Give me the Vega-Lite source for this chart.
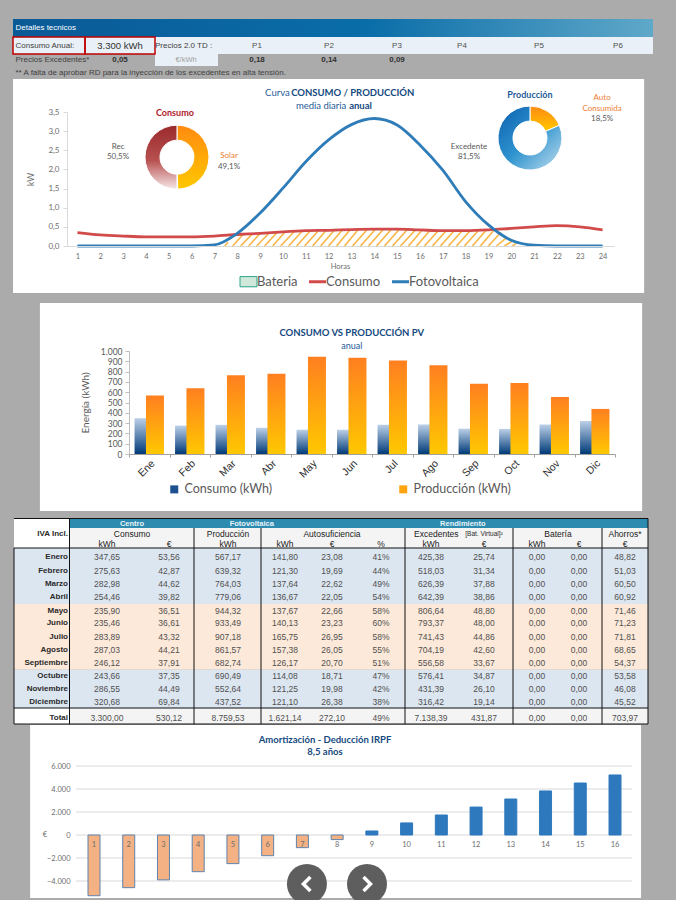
{"$schema":"https://vega.github.io/schema/vega-lite/v6.json","background":"#ABABAB","padding":0,"spacing":0,"bounds":"flush","resolve":{"scale":{"color":"independent"},"legend":{"color":"independent"}},"config":{"view":{"stroke":null},"concat":{"spacing":0},"text":{"font":"Lato"}},
"vconcat":[
{"width":676,"height":79,
"encoding":{"x":{"field":"c","type":"quantitative","axis":null,"scale":{"zero":false,"nice":false,"domain":[-2,-1,0,0.5,1,1.5,2,3,4,5,6,7,8,9],"range":[13,15.5,85,120,155,186,218,257,329,397,462,539,618,653]}},"y":{"field":"f","type":"quantitative","axis":null,"scale":{"zero":false,"nice":false,"domain":[0,1,2,3,4,5,6,7],"range":[19,28,37,45.5,54,60,66,73]}}},
"layer":[
{"data":{"values":[{"c":-2,"c2":9,"f":0,"f2":2}]},"mark":{"type":"rect","fill":{"x1":0,"y1":0,"x2":1,"y2":0,"gradient":"linear","stops":[{"offset":0,"color":"#0A5A96"},{"offset":0.55,"color":"#0A6DA8"},{"offset":1,"color":"#5FA8C9"}]}},"encoding":{"x2":{"field":"c2"},"y2":{"field":"f2"}}},
{"data":{"values":[{"c":-2,"c2":9,"f":2,"f2":4},{"c":1,"c2":2,"f":4,"f2":6}]},"mark":{"type":"rect","fill":"#EAF0F7"},"encoding":{"x2":{"field":"c2"},"y2":{"field":"f2"}}},
{"data":{"values":[{"c":-2,"c2":0,"f":2,"f2":4},{"c":0,"c2":1,"f":2,"f2":4}]},"mark":{"type":"rect","fill":"transparent","stroke":"#C00000","strokeWidth":1.5},"encoding":{"x2":{"field":"c2"},"y2":{"field":"f2"}}},
{"data":{"values":[{"c":-1,"f":1,"t":"Detalles tecnicos"}]},"mark":{"type":"text","align":"left","font":"Liberation Sans","fontSize":8,"fill":"white"},"encoding":{"text":{"field":"t"}}},
{"data":{"values":[{"c":-1,"f":3,"t":"Consumo Anual:"},{"c":1,"f":3,"t":" Precios  2.0 TD :"},{"c":-1,"f":5,"t":"Precios Excedentes*"},{"c":-1,"f":7,"t":"** A falta de aprobar RD para la inyección de los excedentes en alta tensión."}]},"mark":{"type":"text","align":"left","font":"Liberation Sans","fontSize":8,"fill":"#404040"},"encoding":{"text":{"field":"t"}}},
{"data":{"values":[{"c":0.5,"f":3,"t":"3.300 kWh"}]},"mark":{"type":"text","font":"Liberation Sans","fontSize":9.5,"fill":"#303030"},"encoding":{"text":{"field":"t"}}},
{"data":{"values":[{"c":3,"f":3,"t":"P1"},{"c":4,"f":3,"t":"P2"},{"c":5,"f":3,"t":"P3"},{"c":6,"f":3,"t":"P4"},{"c":7,"f":3,"t":"P5"},{"c":8,"f":3,"t":"P6"}]},"mark":{"type":"text","font":"Liberation Sans","fontSize":8,"fill":"#505050"},"encoding":{"text":{"field":"t"}}},
{"data":{"values":[{"c":1.5,"f":5,"t":"€/kWh"}]},"mark":{"type":"text","font":"Liberation Sans","fontSize":7.5,"fill":"#A0A0A0"},"encoding":{"text":{"field":"t"}}},
{"data":{"values":[{"c":0.5,"f":5,"t":"0,05"},{"c":3,"f":5,"t":"0,18"},{"c":4,"f":5,"t":"0,14"},{"c":5,"f":5,"t":"0,09"}]},"mark":{"type":"text","font":"Liberation Sans","fontSize":8,"fontWeight":"bold","fill":"#303030"},"encoding":{"text":{"field":"t"}}}
]},
{"width":676,"height":217,
"encoding":{"x":{"field":"h","type":"quantitative","scale":{"zero":false,"nice":false,"domain":[0.5,24.5],"range":[66,614]},"axis":{"orient":"bottom","offset":-50,"zindex":1,"values":[1,2,3,4,5,6,7,8,9,10,11,12,13,14,15,16,17,18,19,20,21,22,23,24],"format":"d","ticks":false,"grid":false,"domainColor":"#D9D9D9","labelFont":"Lato","labelFontSize":7.5,"labelColor":"#6E6E6E","labelPadding":6,"title":"Horas","titleFont":"Lato","titleFontSize":7.5,"titleFontWeight":"normal","titleColor":"#6E6E6E","titlePadding":3,"labelOverlap":false}},"y":{"field":"k","type":"quantitative","scale":{"zero":false,"nice":false,"domain":[0,3.5],"range":[167,33]},"axis":{"orient":"left","offset":-67,"zindex":1,"values":[0,0.5,1,1.5,2,2.5,3,3.5],"labelExpr":"replace(format(datum.value,'.1f'),'.',',')","grid":false,"domainColor":"#D9D9D9","tickColor":"#D9D9D9","tickSize":4,"labelFont":"Lato","labelFontSize":8,"labelColor":"#6E6E6E","labelPadding":4,"title":"kW","titleFont":"Lato","titleFontSize":9,"titleFontWeight":"normal","titleColor":"#6E6E6E","titlePadding":12}}},
"layer":[
{"data":{"values":[{"h":-1.82,"h2":25.82,"k":4.36,"k2":-1.227}]},"mark":{"type":"rect","fill":"white"},"encoding":{"x2":{"field":"h2"},"y2":{"field":"k2"}}},
{"data":{"values":[{"h":7.45,"h2":7.6,"k":0,"k2":0.1},{"h":7.8,"h2":8.25,"k":0,"k2":0.3},{"h":8.15,"h2":8.65,"k":0,"k2":0.31},{"h":8.5,"h2":9,"k":0,"k2":0.33},{"h":8.85,"h2":9.4,"k":0,"k2":0.34},{"h":9.2,"h2":9.75,"k":0,"k2":0.36},{"h":9.55,"h2":10.1,"k":0,"k2":0.37},{"h":9.9,"h2":10.5,"k":0,"k2":0.38},{"h":10.25,"h2":10.85,"k":0,"k2":0.39},{"h":10.6,"h2":11.2,"k":0,"k2":0.4},{"h":10.95,"h2":11.55,"k":0,"k2":0.4},{"h":11.3,"h2":11.9,"k":0,"k2":0.41},{"h":11.65,"h2":12.25,"k":0,"k2":0.41},{"h":12,"h2":12.6,"k":0,"k2":0.42},{"h":12.35,"h2":12.95,"k":0,"k2":0.43},{"h":12.7,"h2":13.3,"k":0,"k2":0.43},{"h":13.05,"h2":13.7,"k":0,"k2":0.44},{"h":13.4,"h2":14.05,"k":0,"k2":0.44},{"h":13.75,"h2":14.4,"k":0,"k2":0.44},{"h":14.1,"h2":14.75,"k":0,"k2":0.44},{"h":14.45,"h2":15.1,"k":0,"k2":0.44},{"h":14.8,"h2":15.45,"k":0,"k2":0.43},{"h":15.15,"h2":15.8,"k":0,"k2":0.42},{"h":15.5,"h2":16.1,"k":0,"k2":0.42},{"h":15.85,"h2":16.45,"k":0,"k2":0.41},{"h":16.2,"h2":16.8,"k":0,"k2":0.4},{"h":16.55,"h2":17.15,"k":0,"k2":0.4},{"h":16.9,"h2":17.5,"k":0,"k2":0.4},{"h":17.25,"h2":17.85,"k":0,"k2":0.4},{"h":17.6,"h2":18.2,"k":0,"k2":0.4},{"h":17.95,"h2":18.55,"k":0,"k2":0.4},{"h":18.3,"h2":18.9,"k":0,"k2":0.41},{"h":18.65,"h2":19.25,"k":0,"k2":0.42},{"h":19,"h2":19.55,"k":0,"k2":0.36},{"h":19.35,"h2":19.8,"k":0,"k2":0.22},{"h":19.7,"h2":20.05,"k":0,"k2":0.13},{"h":20.05,"h2":20.2,"k":0,"k2":0.06}]},"mark":{"type":"rule","stroke":"#F6B544","strokeWidth":1.6},"encoding":{"x2":{"field":"h2"},"y2":{"field":"k2"}}},
{"data":{"values":[{"h":1,"k":0.35,"serie":"Consumo"},{"h":2,"k":0.29,"serie":"Consumo"},{"h":3,"k":0.26,"serie":"Consumo"},{"h":4,"k":0.24,"serie":"Consumo"},{"h":5,"k":0.24,"serie":"Consumo"},{"h":6,"k":0.24,"serie":"Consumo"},{"h":7,"k":0.26,"serie":"Consumo"},{"h":8,"k":0.3,"serie":"Consumo"},{"h":9,"k":0.33,"serie":"Consumo"},{"h":10,"k":0.37,"serie":"Consumo"},{"h":11,"k":0.4,"serie":"Consumo"},{"h":12,"k":0.41,"serie":"Consumo"},{"h":13,"k":0.43,"serie":"Consumo"},{"h":14,"k":0.44,"serie":"Consumo"},{"h":15,"k":0.44,"serie":"Consumo"},{"h":16,"k":0.42,"serie":"Consumo"},{"h":17,"k":0.4,"serie":"Consumo"},{"h":18,"k":0.4,"serie":"Consumo"},{"h":19,"k":0.42,"serie":"Consumo"},{"h":20,"k":0.46,"serie":"Consumo"},{"h":21,"k":0.5,"serie":"Consumo"},{"h":22,"k":0.53,"serie":"Consumo"},{"h":23,"k":0.5,"serie":"Consumo"},{"h":24,"k":0.42,"serie":"Consumo"},
{"h":1,"k":0,"serie":"Fotovoltaica"},{"h":2,"k":0,"serie":"Fotovoltaica"},{"h":3,"k":0,"serie":"Fotovoltaica"},{"h":4,"k":0,"serie":"Fotovoltaica"},{"h":5,"k":0,"serie":"Fotovoltaica"},{"h":6,"k":0,"serie":"Fotovoltaica"},{"h":7,"k":0.03,"serie":"Fotovoltaica"},{"h":8,"k":0.33,"serie":"Fotovoltaica"},{"h":9,"k":0.86,"serie":"Fotovoltaica"},{"h":10,"k":1.51,"serie":"Fotovoltaica"},{"h":11,"k":2.2,"serie":"Fotovoltaica"},{"h":12,"k":2.77,"serie":"Fotovoltaica"},{"h":13,"k":3.17,"serie":"Fotovoltaica"},{"h":14,"k":3.33,"serie":"Fotovoltaica"},{"h":15,"k":3.16,"serie":"Fotovoltaica"},{"h":16,"k":2.64,"serie":"Fotovoltaica"},{"h":17,"k":1.98,"serie":"Fotovoltaica"},{"h":18,"k":1.16,"serie":"Fotovoltaica"},{"h":19,"k":0.55,"serie":"Fotovoltaica"},{"h":20,"k":0.15,"serie":"Fotovoltaica"},{"h":21,"k":0.02,"serie":"Fotovoltaica"},{"h":22,"k":0,"serie":"Fotovoltaica"},{"h":23,"k":0,"serie":"Fotovoltaica"},{"h":24,"k":0,"serie":"Fotovoltaica"}]},"mark":{"type":"line","interpolate":"monotone","strokeWidth":2.8},"encoding":{"color":{"field":"serie","type":"nominal","scale":{"domain":["Bateria","Consumo","Fotovoltaica"],"range":["#2CA58D","#D24B4B","#2E7CB8"]},"legend":{"orient":"none","legendX":242,"legendY":196,"direction":"horizontal","columns":3,"title":null,"labelFont":"Lato","labelFontSize":13,"labelColor":"#595959","symbolSize":289,"symbolStrokeWidth":3,"symbolType":"stroke","columnPadding":5,"labelOffset":2,"encode":{"symbols":{"update":{"shape":{"signal":"datum.value==='Bateria'?'M-1,-0.6H1V0.6H-1Z':'stroke'"},"fill":{"signal":"datum.value==='Bateria'?'#CFE8DA':'transparent'"},"strokeWidth":{"signal":"datum.value==='Bateria'?1:3"}}}}}}}},
{"data":{"values":[{"h":5.36,"k":2.32,"ini":0,"fin":49.6}]},"mark":{"type":"arc","radius":32,"radius2":17,"stroke":"white","strokeWidth":1,"fill":{"x1":0,"y1":0,"x2":0,"y2":1,"gradient":"linear","stops":[{"offset":0,"color":"#FF8A10"},{"offset":1,"color":"#FFC800"}]}},"encoding":{"theta":{"field":"ini","type":"quantitative","stack":null,"scale":{"domain":[0,100]}},"theta2":{"field":"fin"}}},
{"data":{"values":[{"h":5.36,"k":2.32,"ini":50,"fin":100}]},"mark":{"type":"arc","radius":32,"radius2":17,"stroke":"white","strokeWidth":1,"fill":{"x1":0,"y1":0,"x2":0,"y2":1,"gradient":"linear","stops":[{"offset":0,"color":"#9A2A2C"},{"offset":0.55,"color":"#B85050"},{"offset":1,"color":"#F6E8E8"}]}},"encoding":{"theta":{"field":"ini","type":"quantitative","stack":null,"scale":{"domain":[0,100]}},"theta2":{"field":"fin"}}},
{"data":{"values":[{"h":20.82,"k":2.82,"ini":0,"fin":18.5}]},"mark":{"type":"arc","radius":32,"radius2":17,"stroke":"white","strokeWidth":1,"fill":{"x1":0,"y1":0,"x2":0,"y2":1,"gradient":"linear","stops":[{"offset":0,"color":"#FF8A10"},{"offset":1,"color":"#FFC800"}]}},"encoding":{"theta":{"field":"ini","type":"quantitative","stack":null,"scale":{"domain":[0,100]}},"theta2":{"field":"fin"}}},
{"data":{"values":[{"h":20.82,"k":2.82,"ini":18.5,"fin":100}]},"mark":{"type":"arc","radius":32,"radius2":17,"stroke":"white","strokeWidth":1,"fill":{"x1":0,"y1":0,"x2":1,"y2":1,"gradient":"linear","stops":[{"offset":0,"color":"#0B5FAE"},{"offset":0.5,"color":"#2F94CF"},{"offset":1,"color":"#C2DDEE"}]}},"encoding":{"theta":{"field":"ini","type":"quantitative","stack":null,"scale":{"domain":[0,100]}},"theta2":{"field":"fin"}}},
{"data":{"values":[{"h":9.22,"k":3.995,"t":"Curva"},{"h":10.57,"k":3.655,"t":"media diaria"}]},"mark":{"type":"text","align":"left","fontSize":9.5,"fill":"#1F5C99"},"encoding":{"text":{"field":"t"}}},
{"data":{"values":[{"h":10.36,"k":3.995,"t":"CONSUMO / PRODUCCIÓN"},{"h":12.9,"k":3.655,"t":"anual"}]},"mark":{"type":"text","align":"left","fontSize":9.5,"fontWeight":"bold","fill":"#154A80"},"encoding":{"text":{"field":"t"}}},
{"data":{"values":[{"h":5.27,"k":3.47,"t":"Consumo"}]},"mark":{"type":"text","fontSize":9,"fontWeight":"bold","fill":"#B02028"},"encoding":{"text":{"field":"t"}}},
{"data":{"values":[{"h":20.82,"k":3.94,"t":"Producción"}]},"mark":{"type":"text","fontSize":9,"fontWeight":"bold","fill":"#1F5C99"},"encoding":{"text":{"field":"t"}}},
{"data":{"values":[{"h":2.78,"k":2.585,"t":"Rec"},{"h":2.78,"k":2.32,"t":"50,5%"},{"h":7.64,"k":2.06,"t":"49,1%"},{"h":23.98,"k":3.32,"t":"18,5%"},{"h":18.15,"k":2.585,"t":"Excedente"},{"h":18.15,"k":2.32,"t":"81,5%"}]},"mark":{"type":"text","fontSize":8,"fill":"#595959"},"encoding":{"text":{"field":"t"}}},
{"data":{"values":[{"h":7.64,"k":2.35,"t":"Solar"},{"h":23.98,"k":3.86,"t":"Auto"},{"h":23.98,"k":3.58,"t":"Consumida"}]},"mark":{"type":"text","fontSize":8,"fill":"#ED7D31"},"encoding":{"text":{"field":"t"}}}
]},
{"width":676,"height":215,"resolve":{"scale":{"x":"independent","y":"independent"}},
"layer":[
{"encoding":{"x":{"field":"n","type":"quantitative","axis":null,"scale":{"zero":false,"nice":false,"domain":[0.5,12.5],"range":[129,615]}},"y":{"field":"e","type":"quantitative","axis":null,"scale":{"zero":false,"nice":false,"domain":[0,1000],"range":[158,55]}}},
"layer":[
{"data":{"values":[{"n":-1.7,"n2":13.17,"e":1466,"e2":-553}]},"mark":{"type":"rect","fill":"white"},"encoding":{"x2":{"field":"n2"},"y2":{"field":"e2"}}},
{"data":{"values":[{"n":6,"e":1175,"t":"CONSUMO VS PRODUCCIÓN PV"}]},"mark":{"type":"text","fontSize":9.5,"fontWeight":"bold","fill":"#154A80"},"encoding":{"text":{"field":"t"}}},
{"data":{"values":[{"n":6,"e":1049,"t":"anual"}]},"mark":{"type":"text","fontSize":9,"fill":"#1F5C99"},"encoding":{"text":{"field":"t"}}}
]},
{"data":{"values":[{"mes":"Ene","serie":"Consumo (kWh)","kwh":347.65},{"mes":"Feb","serie":"Consumo (kWh)","kwh":275.63},{"mes":"Mar","serie":"Consumo (kWh)","kwh":282.98},{"mes":"Abr","serie":"Consumo (kWh)","kwh":254.46},{"mes":"May","serie":"Consumo (kWh)","kwh":235.9},{"mes":"Jun","serie":"Consumo (kWh)","kwh":235.46},{"mes":"Jul","serie":"Consumo (kWh)","kwh":283.89},{"mes":"Ago","serie":"Consumo (kWh)","kwh":287.03},{"mes":"Sep","serie":"Consumo (kWh)","kwh":246.12},{"mes":"Oct","serie":"Consumo (kWh)","kwh":243.66},{"mes":"Nov","serie":"Consumo (kWh)","kwh":286.55},{"mes":"Dic","serie":"Consumo (kWh)","kwh":320.68},
{"mes":"Ene","serie":"Producción (kWh)","kwh":567.17},{"mes":"Feb","serie":"Producción (kWh)","kwh":639.32},{"mes":"Mar","serie":"Producción (kWh)","kwh":764.03},{"mes":"Abr","serie":"Producción (kWh)","kwh":779.06},{"mes":"May","serie":"Producción (kWh)","kwh":944.32},{"mes":"Jun","serie":"Producción (kWh)","kwh":933.49},{"mes":"Jul","serie":"Producción (kWh)","kwh":907.18},{"mes":"Ago","serie":"Producción (kWh)","kwh":861.57},{"mes":"Sep","serie":"Producción (kWh)","kwh":682.74},{"mes":"Oct","serie":"Producción (kWh)","kwh":690.49},{"mes":"Nov","serie":"Producción (kWh)","kwh":552.64},{"mes":"Dic","serie":"Producción (kWh)","kwh":437.52}]},
"encoding":{"x":{"field":"mes","type":"nominal","sort":null,"scale":{"type":"band","domain":["Ene","Feb","Mar","Abr","May","Jun","Jul","Ago","Sep","Oct","Nov","Dic"],"range":[129,615],"paddingInner":0,"paddingOuter":0},"axis":{"orient":"bottom","offset":-57,"zindex":1,"title":null,"tickBand":"extent","labelAngle":-45,"labelFont":"Liberation Sans","labelFontSize":10.5,"labelColor":"#303030","labelPadding":1,"domainColor":"#A0A0A0","tickColor":"#A0A0A0","tickSize":3,"grid":false}},"y":{"field":"kwh","type":"quantitative","scale":{"zero":false,"nice":false,"padding":0,"domain":[0,1000],"range":[158,55]},"axis":{"orient":"left","offset":-129,"zindex":1,"values":[0,100,200,300,400,500,600,700,800,900,1000],"labelExpr":"replace(format(datum.value,',d'),',','.')","labelFont":"Lato","labelFontSize":8.5,"labelColor":"#595959","labelPadding":3,"domainColor":"#BFBFBF","tickColor":"#BFBFBF","tickSize":4,"grid":false,"title":"Energía (kWh)","titleFont":"Lato","titleFontSize":10,"titleFontWeight":"normal","titleColor":"#595959","titlePadding":10}}},
"layer":[
{"mark":{"type":"bar","width":18,"opacity":0},"encoding":{"color":{"field":"serie","type":"nominal","scale":{"domain":["Consumo (kWh)","Producción (kWh)"],"range":["#1B4F8F","#FFA310"]},"legend":{"orient":"none","legendX":168,"legendY":187,"direction":"horizontal","columns":2,"title":null,"labelFont":"Lato","labelFontSize":12.5,"labelColor":"#595959","symbolType":"square","symbolSize":64,"symbolStrokeWidth":0,"symbolOpacity":1,"columnPadding":124,"labelOffset":4,"encode":{"symbols":{"update":{"opacity":{"value":1}}}}}}}},
{"transform":[{"filter":"datum.serie==='Consumo (kWh)'"}],"mark":{"type":"bar","width":18,"xOffset":-5.7,"fill":{"x1":0,"y1":0,"x2":0,"y2":1,"gradient":"linear","stops":[{"offset":0,"color":"#BCD0E8"},{"offset":1,"color":"#003A78"}]}}},
{"transform":[{"filter":"datum.serie==='Producción (kWh)'"}],"mark":{"type":"bar","width":18,"xOffset":5.7,"fill":{"x1":0,"y1":0,"x2":0,"y2":1,"gradient":"linear","stops":[{"offset":0,"color":"#FF7F20"},{"offset":1,"color":"#FFC800"}]}}}
]}
]},
{"width":676,"height":214,
"encoding":{"x":{"field":"c","type":"quantitative","axis":null,"scale":{"zero":false,"nice":false,"domain":[-1,0,0.5,1,1.4,2,2.5,3,3.5,4,5,6,6.5,7,8,8.5,9,10,10.5,11,11.5],"range":[14,68,69.5,107,132,169,194,228,261,285,332,381,405,431,484,513,537,579,602,625,648]}},"y":{"field":"f","type":"quantitative","axis":null,"scale":{"zero":false,"nice":false,"domain":[-3,-2.5,-2,-1,0,0.5,1,2,3,4,5,6,7,8,9,10,11,12,12.5,13,13.5],"range":[7.5,12.7,17,23,33,37,46,60,73,86,100,112,126,139,152,165,178,191,197,206.5,213]}}},
"layer":[
{"data":{"values":[{"c":-1,"c2":0.5,"f":-3,"f2":0.5},{"c":-1,"c2":0.5,"f":12.5,"f2":13.5}]},"mark":{"type":"rect","fill":"white"},"encoding":{"x2":{"field":"c2"},"y2":{"field":"f2"}}},
{"data":{"values":[{"c":0.5,"c2":11.5,"f":-3,"f2":-2}]},"mark":{"type":"rect","fill":"#2E8BB0"},"encoding":{"x2":{"field":"c2"},"y2":{"field":"f2"}}},
{"data":{"values":[{"c":0.5,"c2":11.5,"f":-2,"f2":0.5},{"c":0.5,"c2":11.5,"f":12.5,"f2":13.5}]},"mark":{"type":"rect","fill":"#F4F4F4"},"encoding":{"x2":{"field":"c2"},"y2":{"field":"f2"}}},
{"data":{"values":[{"c":-1,"c2":11.5,"f":0.5,"f2":4.5},{"c":-1,"c2":11.5,"f":9.5,"f2":12.5}]},"mark":{"type":"rect","fill":"#DCE6F1"},"encoding":{"x2":{"field":"c2"},"y2":{"field":"f2"}}},
{"data":{"values":[{"c":-1,"c2":11.5,"f":4.5,"f2":9.5}]},"mark":{"type":"rect","fill":"#FDE9D9"},"encoding":{"x2":{"field":"c2"},"y2":{"field":"f2"}}},
{"data":{"values":[{"c":0.5,"c2":0.5,"f":-3,"f2":13.5},{"c":2.5,"c2":2.5,"f":-2,"f2":13.5},{"c":3.5,"c2":3.5,"f":-2,"f2":13.5},{"c":6.5,"c2":6.5,"f":-2,"f2":13.5},{"c":8.5,"c2":8.5,"f":-2,"f2":13.5},{"c":10.5,"c2":10.5,"f":-2,"f2":13.5},{"c":-1,"c2":11.5,"f":0.5,"f2":0.5},{"c":-1,"c2":11.5,"f":12.5,"f2":12.5},{"c":-1,"c2":11.5,"f":13.5,"f2":13.5},{"c":-1,"c2":11.5,"f":-3,"f2":-3},{"c":11.5,"c2":11.5,"f":-3,"f2":13.5},{"c":-1,"c2":-1,"f":0.5,"f2":13.5}]},"mark":{"type":"rule","stroke":"#111111","strokeWidth":1},"encoding":{"x2":{"field":"c2"},"y2":{"field":"f2"}}},
{"data":{"values":[{"c":1.4,"f":-2.5,"t":"Centro"},{"c":3.36,"f":-2.5,"t":"Fotovoltaica"},{"c":7.6,"f":-2.5,"t":"Rendimiento"}]},"mark":{"type":"text","font":"Liberation Sans","fontSize":7.5,"fontWeight":"bold","fill":"#EAF4F8"},"encoding":{"text":{"field":"t"}}},
{"data":{"values":[{"c":1.4,"f":-1,"t":"Consumo"},{"c":3,"f":-1,"t":"Producción"},{"c":5,"f":-1,"t":"Autosuficiencia"},{"c":7.1,"f":-1,"t":"Excedentes"},{"c":9.5,"f":-1,"t":"Batería"},{"c":11,"f":-1,"t":"Ahorros*"},{"c":1,"f":0,"t":"kWh"},{"c":2,"f":0,"t":"€"},{"c":3,"f":0,"t":"kWh"},{"c":4,"f":0,"t":"kWh"},{"c":5,"f":0,"t":"€"},{"c":6,"f":0,"t":"%"},{"c":7,"f":0,"t":"kWh"},{"c":8,"f":0,"t":"€"},{"c":9,"f":0,"t":"kWh"},{"c":10,"f":0,"t":"€"},{"c":11,"f":0,"t":"€"}]},"mark":{"type":"text","font":"Liberation Sans","fontSize":8.5,"fill":"#1A1A1A"},"encoding":{"text":{"field":"t"}}},
{"data":{"values":[{"c":8,"f":-1,"t":"[Bat. Virtual]²"}]},"mark":{"type":"text","font":"Liberation Sans","fontSize":6.5,"fill":"#2A2A2A"},"encoding":{"text":{"field":"t"}}},
{"data":{"values":[{"c":0,"f":-1,"t":"IVA Incl."},{"c":0,"f":1,"t":"Enero"},{"c":0,"f":2,"t":"Febrero"},{"c":0,"f":3,"t":"Marzo"},{"c":0,"f":4,"t":"Abril"},{"c":0,"f":5,"t":"Mayo"},{"c":0,"f":6,"t":"Junio"},{"c":0,"f":7,"t":"Julio"},{"c":0,"f":8,"t":"Agosto"},{"c":0,"f":9,"t":"Septiembre"},{"c":0,"f":10,"t":"Octubre"},{"c":0,"f":11,"t":"Noviembre"},{"c":0,"f":12,"t":"Diciembre"},{"c":0,"f":13,"t":"Total"}]},"mark":{"type":"text","align":"right","font":"Liberation Sans","fontSize":8,"fontWeight":"bold","fill":"#2A2A2A"},"encoding":{"text":{"field":"t"}}},
{"data":{"values":[
{"f":1,"c":1,"t":"347,65"},{"f":1,"c":2,"t":"53,56"},{"f":1,"c":3,"t":"567,17"},{"f":1,"c":4,"t":"141,80"},{"f":1,"c":5,"t":"23,08"},{"f":1,"c":6,"t":"41%"},{"f":1,"c":7,"t":"425,38"},{"f":1,"c":8,"t":"25,74"},{"f":1,"c":9,"t":"0,00"},{"f":1,"c":10,"t":"0,00"},{"f":1,"c":11,"t":"48,82"},
{"f":2,"c":1,"t":"275,63"},{"f":2,"c":2,"t":"42,87"},{"f":2,"c":3,"t":"639,32"},{"f":2,"c":4,"t":"121,30"},{"f":2,"c":5,"t":"19,69"},{"f":2,"c":6,"t":"44%"},{"f":2,"c":7,"t":"518,03"},{"f":2,"c":8,"t":"31,34"},{"f":2,"c":9,"t":"0,00"},{"f":2,"c":10,"t":"0,00"},{"f":2,"c":11,"t":"51,03"},
{"f":3,"c":1,"t":"282,98"},{"f":3,"c":2,"t":"44,62"},{"f":3,"c":3,"t":"764,03"},{"f":3,"c":4,"t":"137,64"},{"f":3,"c":5,"t":"22,62"},{"f":3,"c":6,"t":"49%"},{"f":3,"c":7,"t":"626,39"},{"f":3,"c":8,"t":"37,88"},{"f":3,"c":9,"t":"0,00"},{"f":3,"c":10,"t":"0,00"},{"f":3,"c":11,"t":"60,50"},
{"f":4,"c":1,"t":"254,46"},{"f":4,"c":2,"t":"39,82"},{"f":4,"c":3,"t":"779,06"},{"f":4,"c":4,"t":"136,67"},{"f":4,"c":5,"t":"22,05"},{"f":4,"c":6,"t":"54%"},{"f":4,"c":7,"t":"642,39"},{"f":4,"c":8,"t":"38,86"},{"f":4,"c":9,"t":"0,00"},{"f":4,"c":10,"t":"0,00"},{"f":4,"c":11,"t":"60,92"},
{"f":5,"c":1,"t":"235,90"},{"f":5,"c":2,"t":"36,51"},{"f":5,"c":3,"t":"944,32"},{"f":5,"c":4,"t":"137,67"},{"f":5,"c":5,"t":"22,66"},{"f":5,"c":6,"t":"58%"},{"f":5,"c":7,"t":"806,64"},{"f":5,"c":8,"t":"48,80"},{"f":5,"c":9,"t":"0,00"},{"f":5,"c":10,"t":"0,00"},{"f":5,"c":11,"t":"71,46"},
{"f":6,"c":1,"t":"235,46"},{"f":6,"c":2,"t":"36,61"},{"f":6,"c":3,"t":"933,49"},{"f":6,"c":4,"t":"140,13"},{"f":6,"c":5,"t":"23,23"},{"f":6,"c":6,"t":"60%"},{"f":6,"c":7,"t":"793,37"},{"f":6,"c":8,"t":"48,00"},{"f":6,"c":9,"t":"0,00"},{"f":6,"c":10,"t":"0,00"},{"f":6,"c":11,"t":"71,23"},
{"f":7,"c":1,"t":"283,89"},{"f":7,"c":2,"t":"43,32"},{"f":7,"c":3,"t":"907,18"},{"f":7,"c":4,"t":"165,75"},{"f":7,"c":5,"t":"26,95"},{"f":7,"c":6,"t":"58%"},{"f":7,"c":7,"t":"741,43"},{"f":7,"c":8,"t":"44,86"},{"f":7,"c":9,"t":"0,00"},{"f":7,"c":10,"t":"0,00"},{"f":7,"c":11,"t":"71,81"},
{"f":8,"c":1,"t":"287,03"},{"f":8,"c":2,"t":"44,21"},{"f":8,"c":3,"t":"861,57"},{"f":8,"c":4,"t":"157,38"},{"f":8,"c":5,"t":"26,05"},{"f":8,"c":6,"t":"55%"},{"f":8,"c":7,"t":"704,19"},{"f":8,"c":8,"t":"42,60"},{"f":8,"c":9,"t":"0,00"},{"f":8,"c":10,"t":"0,00"},{"f":8,"c":11,"t":"68,65"},
{"f":9,"c":1,"t":"246,12"},{"f":9,"c":2,"t":"37,91"},{"f":9,"c":3,"t":"682,74"},{"f":9,"c":4,"t":"126,17"},{"f":9,"c":5,"t":"20,70"},{"f":9,"c":6,"t":"51%"},{"f":9,"c":7,"t":"556,58"},{"f":9,"c":8,"t":"33,67"},{"f":9,"c":9,"t":"0,00"},{"f":9,"c":10,"t":"0,00"},{"f":9,"c":11,"t":"54,37"},
{"f":10,"c":1,"t":"243,66"},{"f":10,"c":2,"t":"37,35"},{"f":10,"c":3,"t":"690,49"},{"f":10,"c":4,"t":"114,08"},{"f":10,"c":5,"t":"18,71"},{"f":10,"c":6,"t":"47%"},{"f":10,"c":7,"t":"576,41"},{"f":10,"c":8,"t":"34,87"},{"f":10,"c":9,"t":"0,00"},{"f":10,"c":10,"t":"0,00"},{"f":10,"c":11,"t":"53,58"},
{"f":11,"c":1,"t":"286,55"},{"f":11,"c":2,"t":"44,49"},{"f":11,"c":3,"t":"552,64"},{"f":11,"c":4,"t":"121,25"},{"f":11,"c":5,"t":"19,98"},{"f":11,"c":6,"t":"42%"},{"f":11,"c":7,"t":"431,39"},{"f":11,"c":8,"t":"26,10"},{"f":11,"c":9,"t":"0,00"},{"f":11,"c":10,"t":"0,00"},{"f":11,"c":11,"t":"46,08"},
{"f":12,"c":1,"t":"320,68"},{"f":12,"c":2,"t":"69,84"},{"f":12,"c":3,"t":"437,52"},{"f":12,"c":4,"t":"121,10"},{"f":12,"c":5,"t":"26,38"},{"f":12,"c":6,"t":"38%"},{"f":12,"c":7,"t":"316,42"},{"f":12,"c":8,"t":"19,14"},{"f":12,"c":9,"t":"0,00"},{"f":12,"c":10,"t":"0,00"},{"f":12,"c":11,"t":"45,52"},
{"f":13,"c":1,"t":"3.300,00"},{"f":13,"c":2,"t":"530,12"},{"f":13,"c":3,"t":"8.759,53"},{"f":13,"c":4,"t":"1.621,14"},{"f":13,"c":5,"t":"272,10"},{"f":13,"c":6,"t":"49%"},{"f":13,"c":7,"t":"7.138,39"},{"f":13,"c":8,"t":"431,87"},{"f":13,"c":9,"t":"0,00"},{"f":13,"c":10,"t":"0,00"},{"f":13,"c":11,"t":"703,97"}
]},"mark":{"type":"text","font":"Liberation Sans","fontSize":8.5,"fill":"#505050"},"encoding":{"text":{"field":"t"}}}
]},
{"width":676,"height":175,
"encoding":{"x":{"field":"a","type":"quantitative","axis":null,"scale":{"zero":false,"nice":false,"padding":0,"domain":[1,16],"range":[94,615]}},"y":{"field":"v","type":"quantitative","scale":{"zero":false,"nice":false,"padding":0,"domain":[-4000,6000],"range":[156,41]},"axis":{"orient":"left","offset":-74,"zindex":1,"values":[-4000,-2000,0,2000,4000,6000],"labelExpr":"replace(format(datum.value,',d'),',','.')","title":null,"domain":false,"ticks":false,"grid":false,"labelFont":"Lato","labelFontSize":7.5,"labelColor":"#6E6E6E","labelPadding":4}}},
"layer":[
{"data":{"values":[{"a":-0.84,"a2":16.75,"v":9565,"v2":-5478}]},"mark":{"type":"rect","fill":"white"},"encoding":{"x2":{"field":"a2"},"y2":{"field":"v2"}}},
{"data":{"values":[{"a":0.48,"a2":16.49,"v":6000},{"a":0.48,"a2":16.49,"v":4000},{"a":0.48,"a2":16.49,"v":2000},{"a":0.48,"a2":16.49,"v":0},{"a":0.48,"a2":16.49,"v":-2000},{"a":0.48,"a2":16.49,"v":-4000}]},"mark":{"type":"rule","stroke":"#D9D9D9","strokeWidth":1},"encoding":{"x2":{"field":"a2"}}},
{"data":{"values":[{"a":1,"v":-5280,"tipo":"inversión"},{"a":2,"v":-4580,"tipo":"inversión"},{"a":3,"v":-3900,"tipo":"inversión"},{"a":4,"v":-3190,"tipo":"inversión"},{"a":5,"v":-2490,"tipo":"inversión"},{"a":6,"v":-1800,"tipo":"inversión"},{"a":7,"v":-1100,"tipo":"inversión"},{"a":8,"v":-400,"tipo":"inversión"},{"a":9,"v":350,"tipo":"retorno"},{"a":10,"v":1050,"tipo":"retorno"},{"a":11,"v":1740,"tipo":"retorno"},{"a":12,"v":2430,"tipo":"retorno"},{"a":13,"v":3130,"tipo":"retorno"},{"a":14,"v":3830,"tipo":"retorno"},{"a":15,"v":4520,"tipo":"retorno"},{"a":16,"v":5220,"tipo":"retorno"}]},"mark":{"type":"bar","width":12,"strokeWidth":1},"encoding":{"y2":{"datum":0},"fill":{"field":"tipo","type":"nominal","legend":null,"scale":{"domain":["inversión","retorno"],"range":["#F4B183","#2E79BD"]}},"stroke":{"field":"tipo","type":"nominal","legend":null,"scale":{"domain":["inversión","retorno"],"range":["#5F83AD","#2E79BD"]}}}},
{"data":{"values":[{"a":1,"v":-870,"t":"1"},{"a":2,"v":-870,"t":"2"},{"a":3,"v":-870,"t":"3"},{"a":4,"v":-870,"t":"4"},{"a":5,"v":-870,"t":"5"},{"a":6,"v":-870,"t":"6"},{"a":7,"v":-870,"t":"7"},{"a":8,"v":-870,"t":"8"},{"a":9,"v":-870,"t":"9"},{"a":10,"v":-870,"t":"10"},{"a":11,"v":-870,"t":"11"},{"a":12,"v":-870,"t":"12"},{"a":13,"v":-870,"t":"13"},{"a":14,"v":-870,"t":"14"},{"a":15,"v":-870,"t":"15"},{"a":16,"v":-870,"t":"16"}]},"mark":{"type":"text","fontSize":7.5,"fill":"#6E6E6E"},"encoding":{"text":{"field":"t"}}},
{"data":{"values":[{"a":-0.41,"v":0,"t":"€"}]},"mark":{"type":"text","fontSize":7.5,"fill":"#6E6E6E"},"encoding":{"text":{"field":"t"}}},
{"data":{"values":[{"a":7.65,"v":8260,"t":"Amortización - Deducción IRPF"},{"a":7.65,"v":7217,"t":"8,5 años"}]},"mark":{"type":"text","fontSize":9.5,"fontWeight":"bold","fill":"#154A80"},"encoding":{"text":{"field":"t"}}},
{"data":{"values":[{"a":7.13,"v":-4260},{"a":8.86,"v":-4260}]},"mark":{"type":"point","shape":"circle","filled":true,"fill":"#5E5E5E","opacity":1,"size":1600,"clip":true}},
{"data":{"values":[{"a":7.13,"v":-4260}]},"mark":{"type":"point","shape":"M0.35,-0.7L-0.35,0L0.35,0.7","filled":false,"fill":"transparent","stroke":"white","strokeWidth":3.5,"opacity":1,"size":400}},
{"data":{"values":[{"a":8.86,"v":-4260}]},"mark":{"type":"point","shape":"M-0.35,-0.7L0.35,0L-0.35,0.7","filled":false,"fill":"transparent","stroke":"white","strokeWidth":3.5,"opacity":1,"size":400}}
]}
]}
